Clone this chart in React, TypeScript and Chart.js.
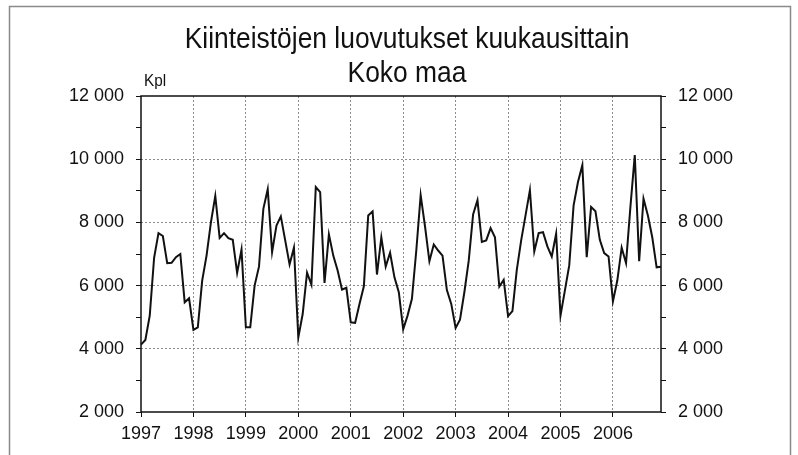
import React, { useEffect, useRef } from "react";
import { Chart, registerables } from "chart.js";

Chart.register(...registerables);

const titleLines = ["Kiinteistöjen luovutukset kuukausittain", "Koko maa"];
const unitLabel = "Kpl";
const years = ["1997", "1998", "1999", "2000", "2001", "2002", "2003", "2004", "2005", "2006"];

const v1997 = [4130, 4280, 5050, 6880, 7660, 7570, 6710, 6720, 6900, 7000, 5470, 5600];
const v1998 = [4600, 4680, 6160, 6950, 8000, 8835, 7510, 7660, 7500, 7450, 6400, 7140];
const v1999 = [4680, 4680, 6000, 6600, 8430, 9050, 7060, 7900, 8190, 7430, 6670, 7200];
const v2000 = [4360, 5100, 6410, 6030, 9120, 8960, 6085, 7620, 6950, 6480, 5870, 5930];
const v2001 = [4840, 4820, 5420, 5980, 8220, 8350, 6350, 7530, 6600, 7040, 6260, 5790];
const v2002 = [4620, 5050, 5580, 7110, 8860, 7870, 6770, 7300, 7110, 6950, 5860, 5420];
const v2003 = [4660, 4920, 5790, 6790, 8250, 8700, 7380, 7430, 7820, 7530, 5970, 6180];
const v2004 = [5030, 5190, 6500, 7430, 8220, 9020, 7080, 7660, 7690, 7240, 6920, 7640];
const v2005 = [5050, 5840, 6640, 8540, 9280, 9810, 6900, 8490, 8350, 7450, 7030, 6920];
const v2006 = [5500, 6160, 7200, 6710, 8490, 10130, 6770, 8750, 8220, 7530, 6580, 6600];

const yMin = 2000;
const yMax = 12000;
const yStep = 1000;

const FONT = '"Liberation Sans Narrow", "Arial Narrow", "Liberation Sans", Arial, sans-serif';
const GRID = "#8c8c8c";

function fmt(v: number): string {
  const s = String(Math.round(v));
  return s.replace(/\B(?=(\d{3})+(?!\d))/g, " ");
}

export default function App() {
  const ref = useRef<HTMLCanvasElement | null>(null);

  useEffect(() => {
    const canvas = ref.current;
    if (!canvas) return;
    const values = [...v1997, ...v1998, ...v1999, ...v2000, ...v2001, ...v2002, ...v2003, ...v2004, ...v2005, ...v2006];
    const labels: string[] = [];
    years.forEach((y) => {
      for (let m = 1; m <= 12; m++) labels.push(`${y}-${m}`);
    });

    const framePlugin = {
      id: "framePlugin",
      beforeDraw(chart: any) {
        const ctx = chart.ctx;
        ctx.save();
        ctx.fillStyle = "#ffffff";
        ctx.fillRect(0, 0, chart.width, chart.height);
        ctx.strokeStyle = "#8a8a8a";
        ctx.lineWidth = 1.5;
        ctx.beginPath();
        ctx.moveTo(9.5, 470);
        ctx.lineTo(9.5, 6.5);
        ctx.lineTo(790.5, 6.5);
        ctx.lineTo(790.5, 470);
        ctx.stroke();
        ctx.restore();
      },
      afterDraw(chart: any) {
        const { ctx, chartArea } = chart;
        ctx.save();
        ctx.strokeStyle = "#111";
        ctx.lineWidth = 1.5;
        ctx.strokeRect(chartArea.left, chartArea.top, chartArea.right - chartArea.left, chartArea.bottom - chartArea.top);
        ctx.fillStyle = "#111";
        ctx.textAlign = "center";
        ctx.textBaseline = "alphabetic";
        ctx.font = `30px ${FONT}`;
        const sx = 0.88;
        ctx.save();
        ctx.translate(407, 0);
        ctx.scale(sx, 1);
        ctx.fillText(titleLines[0], 0, 48);
        ctx.fillText(titleLines[1], 0, 82);
        ctx.restore();
        ctx.textAlign = "left";
        ctx.font = `17px ${FONT}`;
        ctx.save();
        ctx.translate(chartArea.left + 3, chartArea.top - 10);
        ctx.scale(0.9, 1);
        ctx.fillText(unitLabel, 0, 0);
        ctx.restore();
        ctx.restore();
      },
    };

    const chart = new Chart(canvas, {
      type: "line",
      data: {
        labels,
        datasets: [
          {
            data: values,
            borderColor: "#111",
            borderWidth: 2,
            pointRadius: 0,
            tension: 0,
            fill: false,
          },
        ],
      },
      options: {
        animation: false,
        responsive: false,
        maintainAspectRatio: false,
        layout: { padding: { top: 96, left: 0, right: 0, bottom: 0 } },
        plugins: {
          legend: { display: false },
          title: { display: false },
          tooltip: { enabled: false },
        },
        scales: {
          x: {
            type: "category",
            offset: false,
            afterFit: (s: any) => {
              s.height = 43;
            },
            border: { display: false, dash: [2, 2] },
            grid: {
              drawOnChartArea: true,
              color: (c: any) => (c.index % 12 === 0 && c.index !== 0 ? GRID : "rgba(0,0,0,0)"),
              tickColor: (c: any) => (c.index % 12 === 0 ? "#111" : "rgba(0,0,0,0)"),
              tickLength: 5,
              lineWidth: 1,
            },
            ticks: {
              autoSkip: false,
              maxRotation: 0,
              minRotation: 0,
              padding: 6,
              color: "#111",
              font: { family: FONT, size: 18 },
              callback: (_v: any, i: number) => (i % 12 === 0 ? years[i / 12] : ""),
            },
          },
          y: {
            position: "left",
            min: yMin,
            max: yMax,
            afterFit: (s: any) => {
              s.width = 141;
            },
            border: { display: false, dash: [2, 2] },
            grid: {
              color: (c: any) => {
                const v = c.tick ? c.tick.value : 0;
                return v % 2000 === 0 && v !== yMin && v !== yMax ? GRID : "rgba(0,0,0,0)";
              },
              tickColor: "#111",
              tickLength: 5,
              lineWidth: 1,
            },
            ticks: {
              stepSize: yStep,
              autoSkip: false,
              padding: 12,
              color: "#111",
              font: { family: FONT, size: 18 },
              callback: (v: any) => (Number(v) % 2000 === 0 ? fmt(Number(v)) : ""),
            },
          },
          y2: {
            position: "right",
            min: yMin,
            max: yMax,
            afterFit: (s: any) => {
              s.width = 137;
            },
            border: { display: false },
            grid: {
              drawOnChartArea: false,
              tickColor: "#111",
              tickLength: 5,
            },
            ticks: {
              stepSize: yStep,
              autoSkip: false,
              padding: 12,
              color: "#111",
              font: { family: FONT, size: 18 },
              callback: (v: any) => (Number(v) % 2000 === 0 ? fmt(Number(v)) : ""),
            },
          },
        },
      },
      plugins: [framePlugin],
    });

    return () => chart.destroy();
  }, []);

  return (
    <div style={{ position: "absolute", left: 0, top: 0, width: 798, height: 455, background: "#fff" }}>
      <canvas ref={ref} width={798} height={455} style={{ display: "block", width: 798, height: 455 }} />
    </div>
  );
}
